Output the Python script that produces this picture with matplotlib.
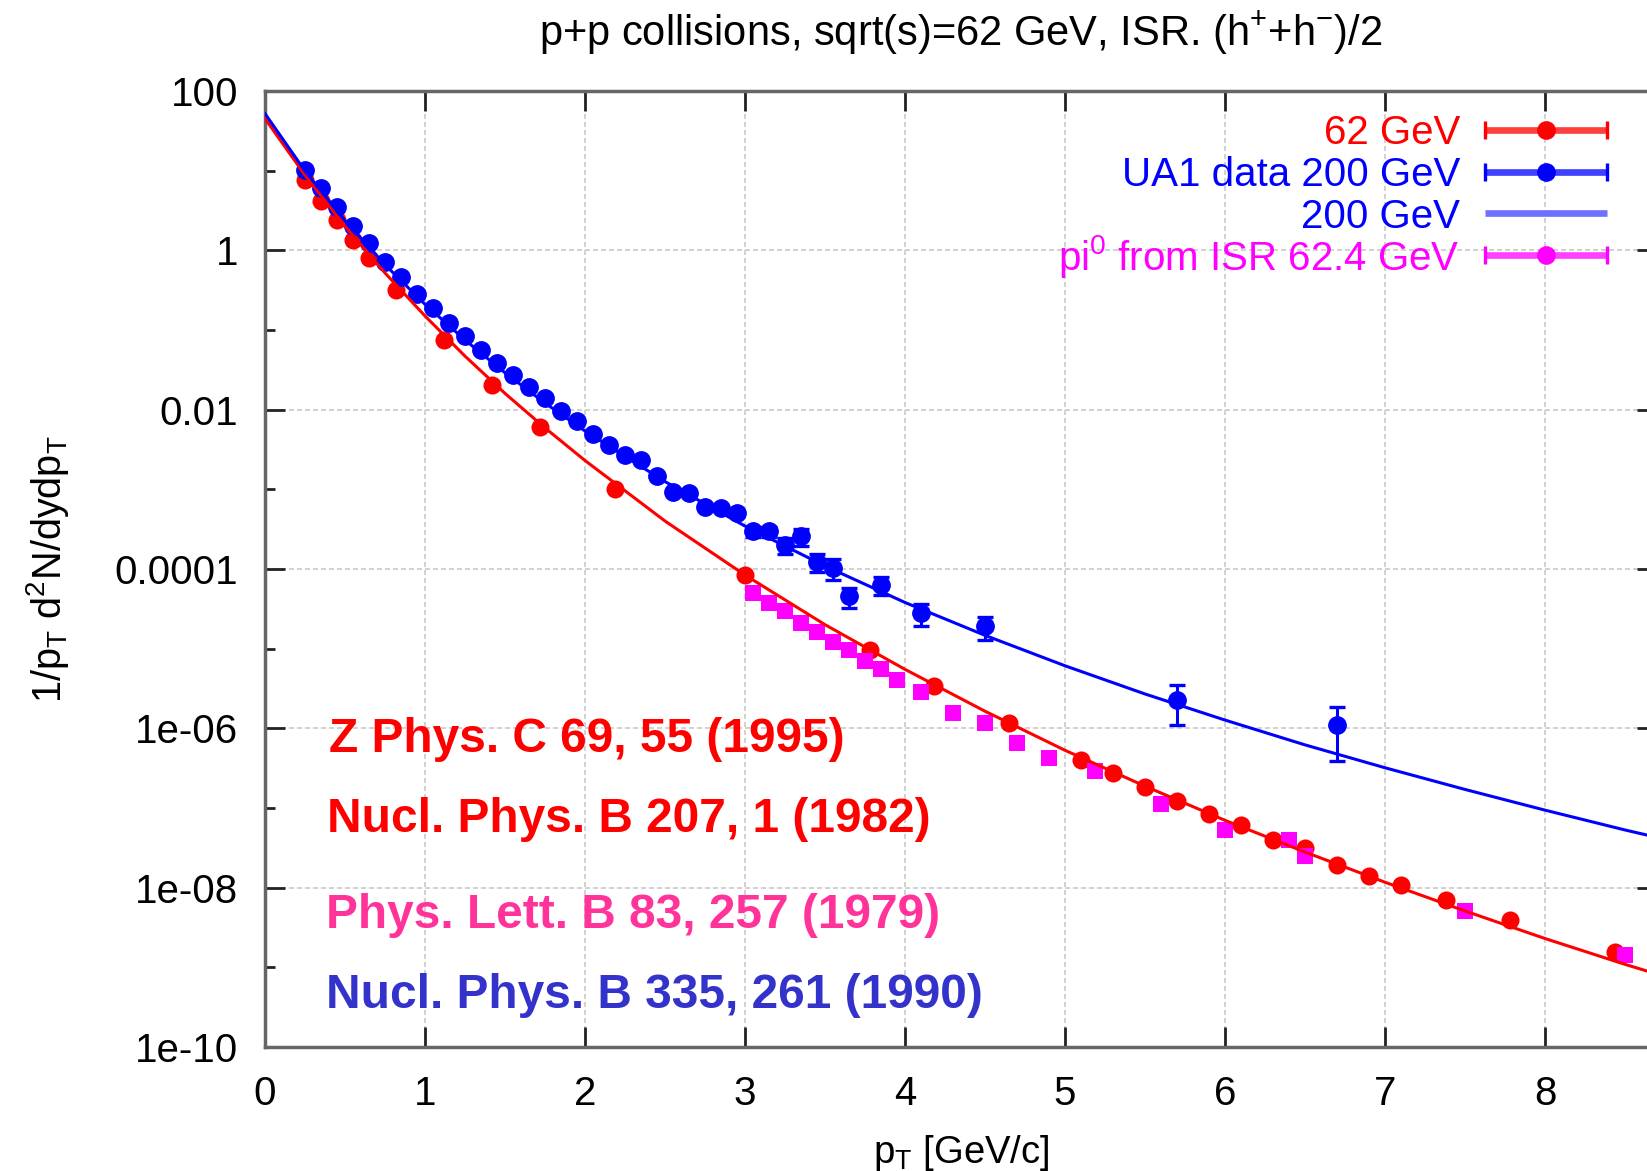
import numpy as np
import matplotlib
matplotlib.use("Agg")
import matplotlib.pyplot as plt
from matplotlib.lines import Line2D
from matplotlib.ticker import FixedLocator, FixedFormatter, NullFormatter

plt.rcParams['font.family'] = ['Liberation Sans', 'DejaVu Sans']
plt.rcParams['mathtext.fontset'] = 'custom'
plt.rcParams['mathtext.rm'] = 'Liberation Sans'
plt.rcParams['mathtext.it'] = 'Liberation Sans:italic'
plt.rcParams['mathtext.bf'] = 'Liberation Sans:bold'

# ---------------- data ----------------
# 62 GeV charged hadrons (h+ + h-)/2
red_pt = [0.25, 0.35, 0.45, 0.55, 0.65, 0.82, 1.12, 1.42, 1.72, 2.19,
          3.0, 3.78, 4.18, 4.65, 5.1, 5.3, 5.5, 5.7, 5.9, 6.1,
          6.3, 6.5, 6.7, 6.9, 7.1, 7.38, 7.78, 8.44]
red_yield = [7.6, 4.2, 2.4, 1.35, 0.79, 0.318, 0.075, 0.0205, 0.006, 0.001,
             8.45e-5, 9.7e-6, 3.36e-6, 1.15e-6, 4.04e-7, 2.75e-7, 1.83e-7, 1.21e-7, 8.4e-8, 6.17e-8,
             4.0e-8, 3.15e-8, 1.95e-8, 1.39e-8, 1.09e-8, 7.07e-9, 3.97e-9, 1.55e-9]

# UA1 200 GeV data with relative errors
blue_pt = [0.25, 0.35, 0.45, 0.55, 0.65, 0.75, 0.85, 0.95, 1.05, 1.15,
           1.25, 1.35, 1.45, 1.55, 1.65, 1.75, 1.85, 1.95, 2.05, 2.15,
           2.25, 2.35, 2.45, 2.55, 2.65, 2.75, 2.85, 2.95, 3.05, 3.15,
           3.25, 3.35, 3.45, 3.55, 3.65, 3.85, 4.1, 4.5, 5.7, 6.7]
blue_yield = [10.2, 6.0, 3.54, 2.04, 1.23, 0.72, 0.469, 0.281, 0.1875, 0.124,
              0.0843, 0.0562, 0.039, 0.0273, 0.0191, 0.0139, 0.0095, 0.0073, 0.00497, 0.00361,
              0.00271, 0.00234, 0.00148, 0.000922, 0.000895, 0.000597, 0.00058, 0.0005, 0.000296, 0.000296,
              0.000201, 0.000256, 0.000124, 0.000103, 4.52e-5, 6.3e-5, 2.8e-5, 1.9e-5, 2.29e-6, 1.11e-6]
blue_relerr = [0.03] * 18 + [0.06] * 10 + [0.15, 0.15, 0.23, 0.23, 0.25, 0.3, 0.28, 0.25, 0.31, 0.32, 0.52, 0.65]

# pi0 from ISR 62.4 GeV
mag_pt = [3.05, 3.15, 3.25, 3.35, 3.45, 3.55, 3.65, 3.75, 3.85, 3.95,
          4.1, 4.3, 4.5, 4.7, 4.9, 5.19, 5.6, 6.0, 6.4, 6.5, 7.5, 8.5]
mag_yield = [4.98e-5, 3.73e-5, 2.93e-5, 2.09e-5, 1.61e-5, 1.23e-5, 9.5e-6, 7.1e-6, 5.5e-6, 4.07e-6,
             2.82e-6, 1.56e-6, 1.16e-6, 6.5e-7, 4.2e-7, 2.88e-7, 1.13e-7, 5.35e-8, 4.0e-8, 2.47e-8, 5.05e-9, 1.44e-9]

# fitted curves
curve_pt = [0, 0.25, 0.5, 0.75, 1.0, 1.25, 1.5, 1.75, 2.0, 2.5, 3.0, 3.5,
            4.0, 4.5, 5.0, 5.5, 6.0, 6.5, 7.0, 7.5, 8.0, 8.5, 9.0]
red_curve = [45, 8.8, 2.0, 0.52, 0.150, 0.047, 0.016, 5.9e-3, 2.3e-3, 4.0e-4, 8.4e-5, 2.0e-5,
             5.5e-6, 1.64e-6, 5.3e-7, 1.88e-7, 7.0e-8, 2.8e-8, 1.17e-8, 5.1e-9, 2.3e-9, 1.09e-9, 5.4e-10]
blue_curve = [52, 9.9, 2.35, 0.66, 0.21, 0.075, 0.029, 0.0121, 5.4e-3, 1.25e-3, 3.46e-4, 1.09e-4,
              3.8e-5, 1.47e-5, 6.1e-6, 2.7e-6, 1.27e-6, 6.2e-7, 3.2e-7, 1.71e-7, 9.4e-8, 5.3e-8, 3.1e-8]

ytick_major = [100, 1, 0.01, 1e-4, 1e-6, 1e-8, 1e-10]
ytick_labels = ['100', '1', '0.01', '0.0001', '1e-06', '1e-08', '1e-10']
ytick_minor = [10, 0.1, 1e-3, 1e-5, 1e-7, 1e-9]
xticks = [0, 1, 2, 3, 4, 5, 6, 7, 8]

legend_labels = ['62 GeV', 'UA1 data 200 GeV', '200 GeV', r'pi$^\mathregular{0}$ from ISR 62.4 GeV']
refs = ['Z Phys. C 69, 55 (1995)', 'Nucl. Phys. B 207, 1 (1982)',
        'Phys. Lett. B 83, 257 (1979)', 'Nucl. Phys. B 335, 261 (1990)']

RED, BLUE, MAG = '#ff0000', '#0000ff', '#ff00ff'

# ---------------- figure ----------------
W, H = 1647, 1171
fig = plt.figure(figsize=(W / 100, H / 100), dpi=100)
ax_l, ax_r, ax_t, ax_b = 265, 1657, 91, 1047
ax = fig.add_axes([ax_l / W, 1 - ax_b / H, (ax_r - ax_l) / W, (ax_b - ax_t) / H])

ax.set_yscale('log')
ax.set_xlim(0, 8.7)
ax.set_ylim(1e-10, 100)

# data
ax.plot(red_pt, red_yield, 'o', color=RED, ms=13, mew=0, zorder=3)
ax.plot(mag_pt, mag_yield, 's', color=MAG, ms=11.5, mew=0, zorder=4)
ax.plot(curve_pt, red_curve, '-', color=RED, lw=2.2, zorder=5)
blue_err = np.array(blue_yield) * np.array(blue_relerr)
ax.errorbar(blue_pt, blue_yield, yerr=blue_err, fmt='o', color=BLUE, ms=12.5, mec=BLUE,
            elinewidth=2.2, capsize=6, capthick=2.4, zorder=3)
ax.plot(curve_pt, blue_curve, '-', color=BLUE, lw=2.2, zorder=5)

# axes styling
ax.yaxis.set_major_locator(FixedLocator(ytick_major))
ax.yaxis.set_major_formatter(FixedFormatter(ytick_labels))
ax.yaxis.set_minor_locator(FixedLocator(ytick_minor))
ax.yaxis.set_minor_formatter(NullFormatter())
ax.xaxis.set_major_locator(FixedLocator(xticks))
ax.xaxis.set_minor_locator(FixedLocator([]))

ax.tick_params(axis='both', which='major', direction='in', length=14.4, width=2,
               color='#222222', top=True, right=True, labelsize=29)
ax.tick_params(axis='both', which='minor', direction='in', length=7.2, width=2,
               color='#222222', top=True, right=True)
ax.tick_params(axis='y', which='major', pad=19.5)
ax.tick_params(axis='x', which='major', pad=20)

ax.grid(True, which='major', color='#d2d2d2', linestyle=(0, (2.5, 1.5)), linewidth=1.44)
ax.set_axisbelow(True)

for side in ('top', 'bottom', 'left'):
    ax.spines[side].set_color('#666666')
    ax.spines[side].set_linewidth(2.5)
ax.spines['right'].set_visible(False)

ax.set_title(r'p+p collisions, sqrt(s)=62 GeV, ISR. (h$^\mathregular{+}$+h$^\mathregular{-}$)/2',
             fontsize=30, pad=33)
ax.set_xlabel(r'p$_\mathregular{T}$ [GeV/c]', fontsize=27.5, va='center')
ax.xaxis.set_label_coords(0.5, -0.111)
ax.set_ylabel(r'1/p$_\mathregular{T}$ d$^\mathregular{2}$N/dydp$_\mathregular{T}$', fontsize=28.5, va='center')
ax.yaxis.set_label_coords(-0.156, 0.5)

# legend (text right-aligned, sample to the right)
def fx(px):
    return (px - ax_l) / (ax_r - ax_l)

def fy(py):
    return (ax_b - py) / (ax_b - ax_t)

rows = [130, 171.7, 213.3, 255]
text_cols = [RED, BLUE, BLUE, MAG]
sample_cols = [RED, BLUE, '#7070ff', MAG]
x0, x1, xm = fx(1485), fx(1607), fx(1546)
for i, (lab, r) in enumerate(zip(legend_labels, rows)):
    ax.text(fx(1460), fy(r + 14.5), lab, transform=ax.transAxes, ha='right', va='baseline',
            color=text_cols[i], fontsize=29, zorder=10)
    alpha = 0.75 if i != 2 else 1.0
    ax.add_line(Line2D([x0, x1], [fy(r), fy(r)], transform=ax.transAxes, color=sample_cols[i],
                       lw=4.8, alpha=alpha, clip_on=False, zorder=10, solid_capstyle='butt'))
    if i != 2:
        ax.add_line(Line2D([x0, x1], [fy(r), fy(r)], transform=ax.transAxes, color=sample_cols[i],
                           lw=0, marker='|', ms=12.5, mew=2.4, clip_on=False, zorder=11))
        ax.add_line(Line2D([xm], [fy(r)], transform=ax.transAxes, color=sample_cols[i],
                           lw=0, marker='o', ms=13.5, mew=0, clip_on=False, zorder=11))

# references
ref_cols = ['#ff0000', '#ff0000', '#ff3399', '#3333cc']
ref_base = [752, 832.3, 928.3, 1008.3]
ref_left = [329, 327, 326, 326]
for t, c, b, l in zip(refs, ref_cols, ref_base, ref_left):
    ax.text(fx(l), fy(b), t, transform=ax.transAxes, ha='left', va='baseline',
            color=c, fontsize=34.5, fontweight='bold', zorder=10)

fig.savefig('out.png', dpi=100)
